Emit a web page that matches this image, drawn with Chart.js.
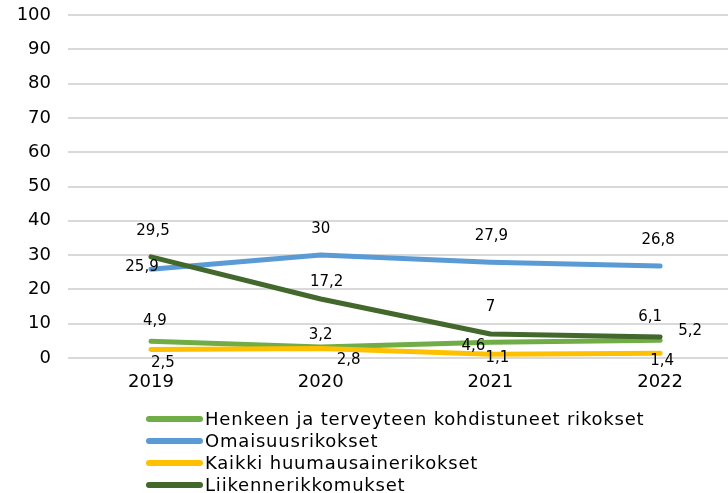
<!DOCTYPE html>
<html>
<head>
<meta charset="utf-8">
<script src="https://cdn.jsdelivr.net/npm/chart.js@4"></script>
<style>
  html, body { margin: 0; padding: 0; background: #fff; }
  #wrap { position: relative; width: 728px; height: 493px; overflow: hidden; }
  #legend { position: absolute; left: 146px; top: 408px; font-family: "DejaVu Sans", Verdana, sans-serif; font-size: 18px; letter-spacing: 0.8px; color: #000; }
  #legend div { height: 22px; line-height: 22px; display: flex; align-items: center; white-space: nowrap; }
  #legend span.sw { display: inline-block; width: 57px; height: 6px; border-radius: 3px; margin-right: 2px; }
</style>
</head>
<body>
<div id="wrap">
  <canvas id="c" width="728" height="493"></canvas>
  <div id="legend"></div>
</div>
<script>
const categories = [2019, 2020, 2021, 2022];
const seriesNames = [
  "Henkeen ja terveyteen kohdistuneet rikokset",
  "Omaisuusrikokset",
  "Kaikki huumausainerikokset",
  "Liikennerikkomukset"
];
const henkeenValues = [4.9, 3.2, 4.6, 5.2];
const omaisuusValues = [25.9, 30, 27.9, 26.8];
const huumausValues = [2.5, 2.8, 1.1, 1.4];
const liikenneValues = [29.5, 17.2, 7, 6.1];
const yTicks = [0, 10, 20, 30, 40, 50, 60, 70, 80, 90, 100];

const colors = ["#70AD47", "#5B9BD5", "#FFC000", "#43682B"];
// label offsets (px) relative to each point
const labelOffsets = [
  [[4, -20], [0, -12], [-17, 4], [30, -9]],
  [[-9, -2], [0, -26], [1, -26], [-2, -26]],
  [[12, 14], [28, 12], [7, 4], [2, 8]],
  [[2, -26], [6, -17], [0, -27], [-10, -20]]
];

const allValues = [henkeenValues, omaisuusValues, huumausValues, liikenneValues];
const FONT = '"DejaVu Sans", Verdana, sans-serif';

const datasets = allValues.map((vals, i) => ({
  label: seriesNames[i],
  data: categories.map((c, j) => ({ x: c, y: vals[j] })),
  borderColor: colors[i],
  backgroundColor: colors[i],
  borderWidth: 5,
  pointRadius: 0,
  borderCapStyle: 'round',
  borderJoinStyle: 'round',
  tension: 0,
  order: i === 3 ? 0 : (i === 2 ? 3 : 4 - i)
}));

const labelPlugin = {
  id: 'valueLabels',
  afterDatasetsDraw(chart) {
    const ctx = chart.ctx;
    const xs = chart.scales.x, ys = chart.scales.y;
    ctx.save();
    ctx.font = '15px ' + FONT;
    ctx.fillStyle = '#000';
    ctx.textAlign = 'center';
    ctx.textBaseline = 'middle';
    allValues.forEach((vals, i) => {
      vals.forEach((v, j) => {
        const px = xs.getPixelForValue(categories[j]);
        const py = ys.getPixelForValue(v);
        const off = labelOffsets[i][j];
        ctx.fillText(String(v).replace('.', ','), px + off[0], py + off[1]);
      });
    });
    ctx.restore();
  }
};

new Chart(document.getElementById('c'), {
  type: 'line',
  data: { datasets },
  options: {
    responsive: false,
    animation: false,
    layout: { padding: { top: 15, right: 0, bottom: 0, left: 0 } },
    plugins: { legend: { display: false }, tooltip: { enabled: false } },
    scales: {
      x: {
        type: 'linear',
        min: 2018.511,
        max: 2022.4,
        afterBuildTicks: (s) => { s.ticks = categories.map(v => ({ value: v })); },
        afterFit: (s) => { s.height = 135; s.paddingLeft = 0; s.paddingRight = 0; },
        grid: { display: false, drawTicks: false },
        border: { display: false },
        ticks: { padding: 14, color: '#000', font: { family: FONT, size: 18 }, callback: (v) => String(v), maxRotation: 0 }
      },
      y: {
        min: 0, max: 100,
        afterBuildTicks: (s) => { s.ticks = yTicks.map(v => ({ value: v })); },
        afterFit: (s) => { s.width = 68; s.paddingTop = 0; s.paddingBottom = 0; },
        grid: { color: '#D9D9D9', lineWidth: 2, drawTicks: false },
        border: { display: false },
        ticks: { padding: 17, color: '#000', font: { family: FONT, size: 18 } }
      }
    }
  },
  plugins: [labelPlugin]
});

const leg = document.getElementById('legend');
seriesNames.forEach((n, i) => {
  const d = document.createElement('div');
  d.innerHTML = '<span class="sw" style="background:' + colors[i] + '"></span>' + n;
  leg.appendChild(d);
});
</script>
</body>
</html>
